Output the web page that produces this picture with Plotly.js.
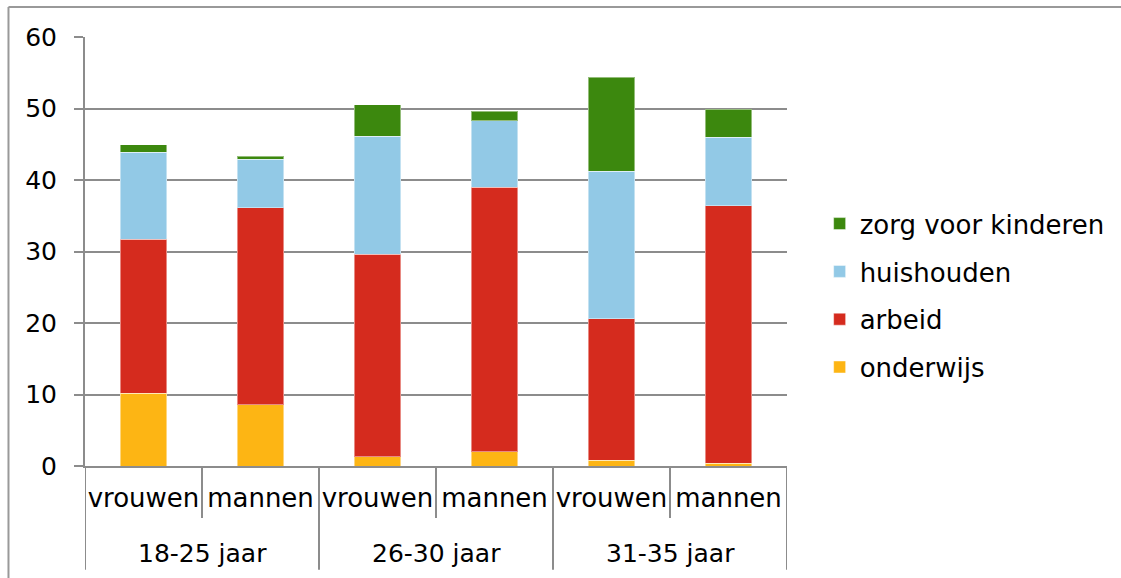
<!DOCTYPE html>
<html>
<head>
<meta charset="utf-8">
<script src="https://cdn.plot.ly/plotly-3.0.1.min.js"></script>
<style>html,body{margin:0;padding:0;background:#fff}#chart{width:1121px;height:578px}</style>
</head>
<body>
<div id="chart"></div>
<script>
const groups = ["18-25 jaar", "18-25 jaar", "26-30 jaar", "26-30 jaar", "31-35 jaar", "31-35 jaar"];
const sexes = ["vrouwen", "mannen", "vrouwen", "mannen", "vrouwen", "mannen"];
const onderwijs = [10.2, 8.6, 1.3, 2.0, 0.8, 0.4];
const arbeid = [21.5, 27.5, 28.3, 37.0, 19.8, 36.0];
const huishouden = [12.2, 6.8, 16.5, 9.3, 20.6, 9.6];
const zorg = [1.0, 0.4, 4.4, 1.3, 13.2, 3.9];
const seriesNames = ["onderwijs", "arbeid", "huishouden", "zorg voor kinderen"];
const seriesColors = ["#fdb514", "#d52b1e", "#92c9e6", "#3c880e"];
const yTicks = [0, 10, 20, 30, 40, 50, 60];

const FONT = "DejaVu Sans, Verdana, sans-serif";
const idx = sexes.map((_, i) => i);
const values = [onderwijs, arbeid, huishouden, zorg];
const traces = values.map((v, i) => ({
  type: "bar",
  x: idx,
  y: v,
  name: seriesNames[i],
  legendgroup: "g" + i,
  legendrank: values.length - i,
  marker: {color: seriesColors[i], line: {color: "rgba(255,255,255,0.45)", width: 1}},
  hoverinfo: "none"
}));

// category axis decorations (built from the category arrays)
const AX = "#8c8c8c";
const shapes = [];
const annotations = [];
const innerBottom = -0.121, outerBottom = -0.242;
shapes.push({type: "line", xref: "x", yref: "paper", x0: -0.5, x1: -0.5, y0: 0, y1: outerBottom, line: {color: AX, width: 2}});
for (let i = 0; i < groups.length; i++) {
  const last = i === groups.length - 1;
  const sameGroup = !last && groups[i] === groups[i + 1];
  shapes.push({type: "line", xref: "x", yref: "paper", x0: i + 0.5, x1: i + 0.5, y0: 0,
    y1: sameGroup ? innerBottom : outerBottom, line: {color: AX, width: 2}});
}
const uniqueGroups = [...new Set(groups)];
uniqueGroups.forEach(g => {
  const members = idx.filter(i => groups[i] === g);
  const mid = members.reduce((a, b) => a + b, 0) / members.length;
  annotations.push({text: g, x: mid, xref: "x", y: -0.203, yref: "paper", yanchor: "middle",
    showarrow: false, font: {family: FONT, size: 25, color: "#000"}});
});
// outer chart frame (top and left)
shapes.push({type: "line", xref: "paper", yref: "paper", x0: -0.109, x1: 1.48, y0: 1.07, y1: 1.07, line: {color: "#999", width: 2}});
shapes.push({type: "line", xref: "paper", yref: "paper", x0: -0.109, x1: -0.109, y0: 1.07, y1: -0.3, line: {color: "#999", width: 2}});

const layout = {
  width: 1121, height: 578,
  margin: {l: 85, r: 333, t: 37, b: 112},
  barmode: "stack",
  bargap: 0.6,
  paper_bgcolor: "#fff", plot_bgcolor: "#fff",
  font: {family: FONT, size: 25, color: "#000"},
  showlegend: true,
  legend: {
    x: 1.045, xanchor: "left", y: 0.397, yanchor: "middle",
    traceorder: "grouped", tracegroupgap: 11,
    font: {size: 26, family: FONT},
    itemwidth: 30
  },
  xaxis: {
    range: [-0.5, sexes.length - 0.5],
    tickvals: idx, ticktext: sexes,
    ticks: "", showgrid: false, zeroline: false,
    showline: true, linecolor: AX, linewidth: 2,
    tickfont: {family: FONT, size: 26},
    ticklabelstandoff: 8
  },
  yaxis: {
    range: [0, 60],
    tickvals: yTicks,
    ticktext: yTicks.map(String),
    showgrid: true, gridcolor: AX, gridwidth: 2,
    showline: true, linecolor: AX, linewidth: 2,
    ticks: "outside", ticklen: 9, tickcolor: AX, tickwidth: 2,
    zeroline: false,
    tickfont: {size: 25},
    ticklabelstandoff: 12
  },
  shapes: shapes,
  annotations: annotations
};

Plotly.newPlot("chart", traces, layout, {staticPlot: true});
</script>
</body>
</html>
